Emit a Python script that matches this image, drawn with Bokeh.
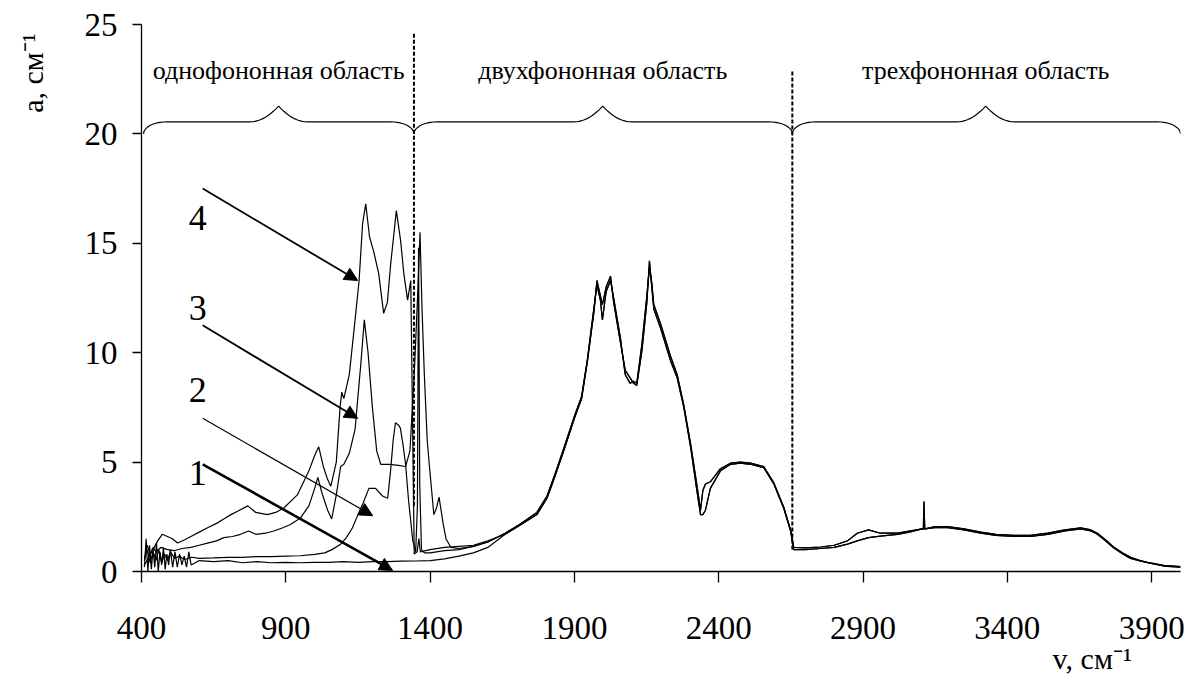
import numpy as np
from bokeh.plotting import figure
from bokeh.models import Range1d, FixedTicker, Label, Arrow, NormalHead
from bokeh.embed import file_html
from bokeh.resources import INLINE

# ---------------- data ----------------
# one-phonon part of each spectrum (sample-specific)
v1 = [410, 416, 422, 428, 434, 440, 446, 452, 458, 464, 470, 476, 482, 488, 494, 500, 508, 516, 524, 532,
      540, 548, 556, 564, 572, 600, 650, 700, 750, 800, 850, 900, 950, 1000, 1050, 1100, 1150, 1200, 1250, 1300,
      1350, 1400, 1450, 1500, 1550, 1600]
a1 = [0.2, 1.5, 0.0, 1.2, 0.1, 1.0, 0.2, 1.3, 0.0, 0.9, 0.3, 1.1, 0.1, 0.8, 0.3, 1.0, 0.2, 0.9, 0.2, 0.8,
      0.3, 0.7, 0.2, 0.9, 0.3, 0.5, 0.45, 0.5, 0.4, 0.45, 0.4, 0.42, 0.4, 0.42, 0.42, 0.45, 0.42, 0.45, 0.45, 0.47,
      0.48, 0.5, 0.58, 0.7, 0.85, 1.1]

v2 = [410, 420, 430, 440, 450, 460, 470, 480, 490, 500, 515, 530, 550, 575, 600, 650, 700, 750, 800, 850,
      900, 950, 1000, 1035, 1060, 1090, 1110, 1131, 1150, 1167, 1188, 1211, 1235, 1253, 1263, 1272, 1280, 1290, 1297, 1306,
      1315, 1325, 1340, 1350, 1356, 1360, 1364, 1370, 1380, 1400, 1450, 1500, 1550, 1600]
a2 = [0.5, 1.0, 0.4, 0.9, 0.5, 1.0, 0.4, 0.8, 0.5, 0.9, 0.6, 0.7, 0.55, 0.65, 0.6, 0.62, 0.65, 0.65, 0.68, 0.68,
      0.7, 0.72, 0.78, 0.85, 1.0, 1.25, 1.55, 2.0, 2.6, 3.1, 3.8, 3.8, 3.45, 3.35, 4.6, 6.0, 6.8, 6.7, 6.55, 5.8,
      4.9, 3.3, 1.4, 0.9, 3.0, 14.8, 4.0, 1.0, 0.85, 0.85, 0.95, 1.0, 1.15, 1.35]

v3 = [410, 420, 430, 440, 450, 467, 490, 513, 540, 571, 600, 629, 660, 685, 715, 743, 771, 796, 830, 858,
      890, 916, 951, 980, 1000, 1011, 1025, 1045, 1059, 1075, 1090, 1101, 1120, 1140, 1160, 1172, 1185, 1200, 1215, 1229,
      1260, 1290, 1315, 1330, 1345, 1358, 1365, 1372, 1380, 1390, 1397, 1413, 1422, 1431, 1445, 1455, 1472, 1500, 1550, 1600]
a3 = [0.6, 1.2, 0.8, 1.1, 0.9, 1.1, 1.0, 0.95, 1.05, 1.1, 1.2, 1.3, 1.4, 1.55, 1.6, 1.7, 1.85, 1.7, 1.75, 1.85,
      2.0, 2.15, 2.45, 3.0, 3.8, 4.3, 3.6, 2.8, 2.4, 3.5, 4.8, 4.9, 5.4, 6.5, 9.5, 11.5, 10.0, 7.5, 5.5, 4.9,
      4.9, 4.85, 4.8, 5.5, 9.0, 13.0, 15.5, 12.0, 9.0, 6.0, 4.9, 2.6, 2.9, 3.4, 2.2, 1.5, 1.1, 1.05, 1.15, 1.35]

v4 = [410, 440, 456, 472, 490, 507, 525, 550, 571, 600, 629, 660, 685, 710, 733, 768, 796, 836, 865, 893,
      940, 980, 1000, 1014, 1030, 1045, 1056, 1075, 1088, 1094, 1101, 1120, 1140, 1154, 1166, 1177, 1190, 1205, 1222, 1239,
      1252, 1263, 1283, 1298, 1309, 1322, 1333, 1338, 1345, 1355, 1361, 1366, 1400, 1450, 1500, 1550, 1600]
a4 = [0.3, 1.0, 1.4, 1.7, 1.6, 1.5, 1.3, 1.45, 1.6, 1.8, 2.0, 2.2, 2.4, 2.6, 2.75, 3.0, 2.7, 2.6, 2.7, 2.9,
      3.5, 4.6, 5.3, 5.7, 4.8, 4.2, 3.9, 5.0, 7.5, 8.2, 7.9, 9.0, 11.5, 13.3, 15.9, 16.8, 15.3, 14.6, 13.6, 11.8,
      12.3, 14.0, 16.5, 15.1, 13.6, 12.4, 13.3, 8.0, 0.8, 0.9, 1.5, 0.9, 1.0, 1.1, 1.15, 1.2, 1.4]

# two- and three-phonon part (nearly identical for all samples)
tail_v = [1660, 1710, 1770, 1805, 1830, 1865, 1900, 1925, 1945, 1968, 1978, 1990, 1997, 2010, 2025, 2036, 2059, 2076, 2093, 2105,
          2116, 2134, 2151, 2160, 2168, 2175, 2199, 2234, 2256, 2279, 2303, 2326, 2337, 2345, 2354, 2371, 2406, 2441, 2475, 2510,
          2556, 2591, 2625, 2649, 2660, 2700, 2753, 2800, 2846, 2880, 2919, 2960, 3019, 3060, 3105, 3109, 3111, 3114, 3150, 3193,
          3250, 3308, 3360, 3423, 3480, 3540, 3600, 3654, 3690, 3712, 3740, 3768, 3800, 3827, 3860, 3886, 3941, 4000]
tail_a_A = [1.7, 2.1, 2.6, 3.35, 4.25, 5.6, 7.0, 7.9, 9.6, 11.9, 13.3, 12.6, 12.2, 13.0, 13.5, 12.3, 10.5, 9.2, 8.85, 8.6,
            8.5, 10.1, 12.3, 14.2, 13.0, 12.0, 11.1, 9.6, 8.85, 7.5, 5.65, 3.55, 2.6, 2.6, 2.8, 3.8, 4.6, 4.9, 4.95, 4.9,
            4.75, 4.0, 2.9, 1.85, 1.0, 1.0, 1.05, 1.1, 1.25, 1.4, 1.55, 1.62, 1.7, 1.8, 1.95, 1.95, 1.97, 1.95, 2.0, 2.0,
            1.9, 1.75, 1.65, 1.6, 1.6, 1.7, 1.85, 1.95, 1.85, 1.7, 1.4, 1.08, 0.8, 0.6, 0.48, 0.4, 0.25, 0.2]
tail_a_B = [1.75, 2.15, 2.7, 3.45, 4.35, 5.7, 7.1, 8.0, 9.7, 12.1, 13.1, 12.4, 11.5, 12.8, 13.3, 12.5, 10.7, 9.0, 8.6, 8.7,
            8.6, 10.4, 12.6, 13.9, 13.2, 12.2, 11.3, 9.8, 9.0, 7.6, 5.8, 3.8, 2.8, 3.7, 4.0, 4.1, 4.7, 4.95, 5.0, 4.95,
            4.8, 4.05, 2.95, 1.9, 1.1, 1.08, 1.12, 1.2, 1.4, 1.75, 1.9, 1.75, 1.75, 1.85, 1.95, 1.95, 3.2, 1.95, 2.05, 2.05,
            1.95, 1.8, 1.7, 1.65, 1.65, 1.75, 1.9, 2.0, 1.9, 1.75, 1.45, 1.12, 0.85, 0.65, 0.5, 0.42, 0.28, 0.22]

curve_labels = ["1", "2", "3", "4"]
region_names = ["однофононная область", "двухфононная область", "трехфононная область"]
region_bounds = [407, 1344, 2655, 4000]
region_peaks = [875, 1998, 3325]
x_ticks = [400, 900, 1400, 1900, 2400, 2900, 3400, 3900]
y_ticks = [0, 5, 10, 15, 20, 25]
x_title = "v, см\u207b\u00b9"
y_title = "a, см\u207b\u00b9"

FONT = "Liberation Serif"
NBSP = "\u00a0"

p = figure(width=1188, height=681, x_range=Range1d(400, 4000), y_range=Range1d(0, 25),
           output_backend="svg", toolbar_location=None,
           min_border_left=141, min_border_right=8, min_border_top=24, min_border_bottom=110)
p.outline_line_color = None
p.xgrid.visible = False
p.ygrid.visible = False
p.background_fill_color = "white"
p.border_fill_color = "white"

for ax, ticks in ((p.xaxis[0], x_ticks), (p.yaxis[0], y_ticks)):
    ax.ticker = FixedTicker(ticks=ticks)
    ax.axis_line_color = "black"
    ax.axis_line_width = 1.3
    ax.major_tick_line_color = "black"
    ax.major_tick_line_width = 1.3
    ax.major_tick_in = 0
    ax.minor_tick_line_color = None
    ax.major_label_text_font = FONT
    ax.major_label_text_font_size = "33px"
    ax.major_label_text_color = "black"
p.xaxis.major_tick_out = 11
p.yaxis.major_tick_out = 9
p.xaxis.major_label_standoff = 34
p.yaxis.major_label_standoff = 15

# axis titles: centred labels, shifted towards the axis ends with leading no-break spaces
xa = p.xaxis[0]
ya = p.yaxis[0]
xa.axis_label = NBSP * 115 + x_title
ya.axis_label = NBSP * 60 + y_title
for ax in (xa, ya):
    ax.axis_label_text_font = FONT
    ax.axis_label_text_font_size = "30px"
    ax.axis_label_text_font_style = "normal"
    ax.axis_label_text_color = "black"
xa.axis_label_standoff = 0
ya.axis_label_standoff = 33

# spectra
curves = [
    (v1 + tail_v, a1 + tail_a_A),
    (v2 + tail_v, a2 + tail_a_B),
    (v3 + tail_v, a3 + tail_a_B),
    (v4 + tail_v, a4 + tail_a_A),
]
for xs, ys in curves:
    p.line(xs, ys, line_color="black", line_width=1.2)

# dashed separators
p.segment(x0=[region_bounds[1], region_bounds[2]], y0=[3.0, 1.0],
          x1=[region_bounds[1], region_bounds[2]], y1=[24.6, 22.85],
          line_color="black", line_width=2, line_dash="4 2")

# braces
def brace(x0, xm, x1, base=20.0, flat=20.55, top=21.27, de=80, dm=100):
    th = np.linspace(0, np.pi / 2, 12)
    t = np.linspace(0, 1, 12)
    xs = list(x0 + de * (1 - np.cos(th))) + list(xm - dm * (1 - t)) + list(xm + dm * (1 - t[::-1]))
    ys = list(base + (flat - base) * np.sin(th)) + list(flat + (top - flat) * t ** 2) + list(flat + (top - flat) * t[::-1] ** 2)
    xs += list(x1 - de * (1 - np.cos(th[::-1])))
    ys += list(base + (flat - base) * np.sin(th[::-1]))
    return xs, ys

for i in range(3):
    bx, by = brace(region_bounds[i], region_peaks[i], region_bounds[i + 1])
    p.line(bx, by, line_color="black", line_width=1.2)

for name, pk in zip(region_names, region_peaks):
    p.add_layout(Label(x=pk, y=22.88, text=name, text_font=FONT, text_font_size="26px",
                       text_align="center", text_baseline="alphabetic", text_color="black"))

# numbered arrows
arrow_start = [(612, 4.9), (612, 7.0), (612, 11.25), (612, 17.5)]
arrow_end = [(1270, 0.05), (1201, 2.55), (1149, 7.0), (1149, 13.3)]
arrow_w = [2.6, 1.2, 1.8, 1.8]
label_y = [4.5, 8.3, 12.05, 16.16]
for lab, (xs0, ys0), (xe, ye), w, ly in zip(curve_labels, arrow_start, arrow_end, arrow_w, label_y):
    p.add_layout(Arrow(end=NormalHead(size=13, fill_color="black", line_color="black", line_width=1),
                       x_start=xs0, y_start=ys0, x_end=xe, y_end=ye,
                       line_color="black", line_width=w))
    p.add_layout(Label(x=595, y=ly, text=lab, text_font=FONT, text_font_size="36px",
                       text_align="center", text_baseline="alphabetic", text_color="black"))

open("out.html", "w").write(file_html(p, INLINE))
